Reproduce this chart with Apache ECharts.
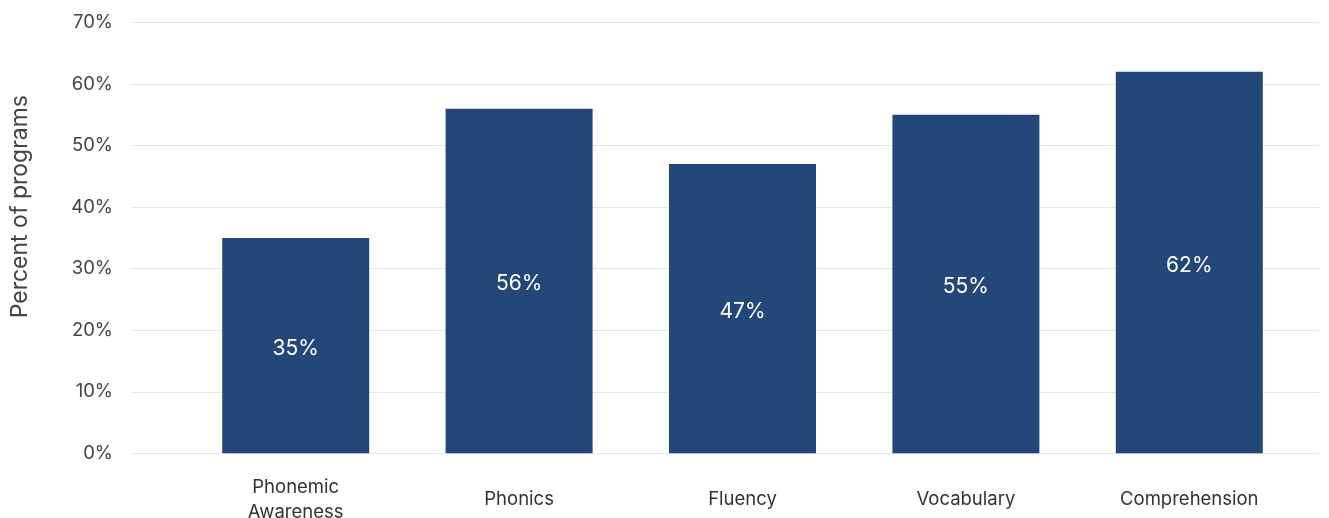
<!DOCTYPE html>
<html>
<head>
<meta charset="utf-8">
<script src="https://cdn.jsdelivr.net/npm/echarts@6/dist/echarts.min.js"></script>
<style>html,body{margin:0;padding:0;background:#fff;}#c{width:1329px;height:518px;}</style>
</head>
<body>
<div id="c"></div>
<script>
var categories = ['Phonemic\nAwareness', 'Phonics', 'Fluency', 'Vocabulary', 'Comprehension'];
var values = [35, 56, 47, 55, 62];
var yTicks = [0, 10, 20, 30, 40, 50, 60, 70];
var axisTitle = 'Percent of programs';

var chart = echarts.init(document.getElementById('c'), null, {renderer: 'canvas'});
var FONT = 'Inter, "Noto Sans", sans-serif';
var yMin = yTicks[0], yMax = yTicks[yTicks.length - 1], yStep = yTicks[1] - yTicks[0];
chart.setOption({
  animation: false,
  textStyle: {fontFamily: FONT},
  grid: [
    {left: 132, right: 10, top: 22.5, bottom: 64.7, outerBoundsMode: 'none', containLabel: false},
    {left: 184, right: 28, top: 22.5, bottom: 64.7, outerBoundsMode: 'none', containLabel: false}
  ],
  xAxis: [
    {gridIndex: 0, type: 'value', show: false, min: 0, max: 1},
    {gridIndex: 1, type: 'category', data: categories,
     axisLine: {show: false}, axisTick: {show: false},
     axisLabel: {color: '#333', fontSize: 18.5, fontFamily: FONT, margin: 46.5, verticalAlign: 'middle', lineHeight: 25, interval: 0}}
  ],
  yAxis: [
    {gridIndex: 0, type: 'value', min: yMin, max: yMax, interval: yStep,
     axisLine: {show: false}, axisTick: {show: false},
     splitLine: {lineStyle: {color: '#e8e8e8', width: 1.2}},
     axisLabel: {color: '#444', fontSize: 18.5, fontFamily: FONT, margin: 19, formatter: '{value}%'}},
    {gridIndex: 1, type: 'value', min: yMin, max: yMax, interval: yStep, show: false, splitLine: {show: false}}
  ],
  graphic: [{
    type: 'text', left: 9, top: 95, rotation: Math.PI / 2,
    style: {text: axisTitle, fill: '#444', font: '23px ' + FONT}
  }],
  series: [{
    type: 'bar', xAxisIndex: 1, yAxisIndex: 1, data: values, barWidth: 147,
    itemStyle: {color: '#24477A'},
    label: {show: true, position: 'inside', offset: [0, 3], color: '#fff', fontSize: 21, fontFamily: FONT, formatter: '{c}%'}
  }]
});
</script>
</body>
</html>
